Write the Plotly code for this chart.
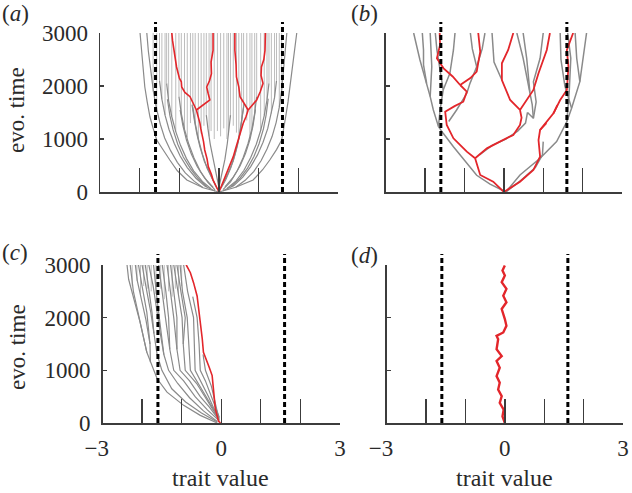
import plotly.graph_objects as go

# ---------------- shared data ----------------
x_tick_vals = [-3, -2, -1, 0, 1, 2, 3]
x_tick_text = ["\u22123\u2007", "", "", "0", "", "", "3"]
y_tick_vals = [0, 1000, 2000, 3000]
y_tick_text = ["0", "1000", "2000", "3000"]
threshold_traits = [-1.6, 1.6]
sim_end_time = 3000

# ---------------- panel (a) ----------------
a_gray_lineages = [
    [(0, 0), (-0.4, 80), (-0.81, 226), (-1.05, 400), (-1.24, 604), (-1.42, 800), (-1.57, 981), (-1.66, 1200), (-1.74, 1415), (-1.81, 1700), (-1.87, 1981), (-1.92, 2400), (-1.96, 2750), (-1.99, 3000)],
    [(-0.4, 80), (-0.62, 200), (-0.85, 360), (-1.05, 560), (-1.22, 780), (-1.37, 1020), (-1.48, 1280), (-1.57, 1560), (-1.65, 1880), (-1.72, 2250), (-1.78, 2650), (-1.82, 3000)],
    [(-0.1, 20), (-0.35, 110), (-0.58, 260), (-0.80, 460), (-0.98, 680), (-1.13, 920), (-1.26, 1180), (-1.36, 1450), (-1.44, 1750), (-1.50, 2100)],
    [(-0.3, 100), (-0.52, 250), (-0.72, 440), (-0.90, 660), (-1.04, 900), (-1.16, 1180), (-1.24, 1450), (-1.30, 1750)],
    [(-0.2, 60), (-0.42, 200), (-0.64, 400), (-0.82, 630), (-0.97, 880), (-1.09, 1140), (-1.19, 1420), (-1.27, 1720), (-1.32, 2050)],
    [(-0.15, 90), (-0.36, 260), (-0.55, 480), (-0.70, 720), (-0.82, 980), (-0.91, 1250), (-0.98, 1550)],
    [(-0.1, 40), (-0.28, 180), (-0.47, 390), (-0.63, 640), (-0.76, 900), (-0.87, 1180), (-0.95, 1480), (-1.01, 1800)],
    [(-0.08, 120), (-0.22, 330), (-0.37, 580), (-0.48, 850), (-0.56, 1100), (-0.62, 1350), (-0.68, 1650)],
    [(-0.05, 60), (-0.16, 220), (-0.30, 450), (-0.42, 720), (-0.52, 1000), (-0.60, 1300), (-0.66, 1600)],
    [(0, 80), (-0.06, 300), (-0.14, 600), (-0.22, 900), (-0.28, 1200), (-0.32, 1450)],
    [(0, 0), (0.42, 90), (0.86, 226), (1.10, 420), (1.28, 604), (1.45, 800), (1.58, 981), (1.64, 1200), (1.68, 1415), (1.74, 1700), (1.79, 1981), (1.86, 2400), (1.92, 2750), (1.96, 3000)],
    [(0.42, 90), (0.66, 220), (0.88, 390), (1.06, 590), (1.21, 810), (1.34, 1050), (1.44, 1310), (1.52, 1600), (1.58, 1920), (1.63, 2300), (1.68, 2700), (1.71, 3000)],
    [(0.1, 25), (0.37, 120), (0.60, 280), (0.80, 480), (0.97, 700), (1.11, 940), (1.23, 1200), (1.32, 1480), (1.40, 1780), (1.45, 2100)],
    [(0.3, 105), (0.53, 260), (0.72, 450), (0.88, 670), (1.01, 910), (1.12, 1190), (1.19, 1460), (1.24, 1760)],
    [(0.2, 65), (0.43, 210), (0.63, 410), (0.80, 650), (0.94, 900), (1.05, 1160), (1.14, 1440), (1.21, 1740), (1.26, 2050)],
    [(0.15, 95), (0.35, 270), (0.53, 490), (0.67, 730), (0.78, 990), (0.86, 1260), (0.92, 1560)],
    [(0.1, 45), (0.29, 190), (0.46, 400), (0.61, 650), (0.73, 910), (0.83, 1190), (0.90, 1490), (0.95, 1800)],
    [(0.08, 125), (0.22, 340), (0.36, 590), (0.46, 860), (0.53, 1110), (0.58, 1360), (0.63, 1660)],
    [(0.05, 70), (0.17, 230), (0.30, 460), (0.41, 730), (0.50, 1010), (0.57, 1310), (0.62, 1600)],
    [(0, 90), (0.07, 320), (0.15, 620), (0.21, 920), (0.26, 1220), (0.29, 1450)],
]
a_static_trait = [-1.66, -1.57, -1.50, -1.44, -1.36, -1.32, -1.27, -1.19, -1.09, -1.01, -0.95, -0.87, -0.80,
                  -0.72, -0.66, -0.60, -0.52, -0.45, -0.38, -0.32, -0.25, -0.20, -0.12, -0.04,
                  0.04, 0.12, 0.20, 0.24, 0.29, 0.36, 0.44, 0.50, 0.57, 0.62, 0.70, 0.78, 0.83, 0.90, 0.95,
                  1.05, 1.14, 1.21, 1.26, 1.32, 1.40, 1.45, 1.52, 1.58]
a_static_from = [1900, 1560, 2100, 1750, 1450, 2050, 1720, 1420, 1140, 1800, 1480, 1180, 1030,
                 1300, 1600, 1300, 1000, 1100, 1250, 1450, 1050, 1150, 1000, 1150,
                 1050, 1200, 1000, 1070, 1450, 1250, 1120, 1010, 1310, 1600, 1350, 1050, 1190, 1490, 1800,
                 1160, 1440, 1740, 2050, 1480, 1780, 2100, 1600, 1920]
a_red_lineages = [
    [(0, 0), (-0.06, 90), (-0.15, 226), (-0.19, 330), (-0.27, 478), (-0.30, 620), (-0.36, 793), (-0.39, 950), (-0.44, 1107), (-0.46, 1200), (-0.48, 1296), (-0.53, 1420), (-0.57, 1547)],
    [(-0.57, 1547), (-0.66, 1680), (-0.73, 1799), (-0.86, 1880), (-0.94, 1981), (-0.95, 2080), (-1.00, 2150), (-1.07, 2359), (-1.10, 2500), (-1.15, 2673), (-1.17, 2850), (-1.19, 3000)],
    [(-0.57, 1547), (-0.40, 1640), (-0.23, 1736), (-0.27, 1850), (-0.31, 1981), (-0.24, 2100), (-0.19, 2233), (-0.20, 2450), (-0.15, 2673), (-0.15, 2850), (-0.15, 3000)],
    [(0, 0), (0.08, 150), (0.19, 352), (0.27, 500), (0.36, 667), (0.42, 820), (0.48, 981), (0.55, 1150), (0.61, 1296), (0.68, 1420), (0.735, 1547)],
    [(0.735, 1547), (0.85, 1640), (0.95, 1736), (1.04, 1890), (1.11, 2050), (1.06, 2200), (1.07, 2359), (1.13, 2500), (1.16, 2673), (1.17, 3000)],
    [(0.735, 1547), (0.62, 1680), (0.53, 1799), (0.50, 1980), (0.44, 2170), (0.43, 2400), (0.40, 2673), (0.40, 3000)],
]

# ---------------- panel (b) ----------------
b_gray_lineages = [
    [(0.05, 0), (-0.35, 150), (-0.69, 315), (-0.94, 541), (-1.28, 855), (-1.54, 1107), (-1.66, 1233)],
    [(-1.66, 1233), (-1.79, 1547), (-1.87, 1799), (-1.96, 2050), (-2.13, 2491), (-2.29, 3000)],
    [(-1.87, 1799), (-1.85, 2100), (-1.83, 2364), (-1.87, 3000)],
    [(-1.96, 2050), (-2.04, 2400), (-2.04, 2680), (-2.07, 3000)],
    [(-1.66, 1233), (-1.62, 1547), (-1.54, 1925), (-1.62, 2300), (-1.70, 2680), (-1.74, 3000)],
    [(-1.54, 1925), (-1.37, 2239), (-1.28, 2680), (-1.24, 3000)],
    [(-1.40, 1330), (-1.20, 1547), (-0.94, 1862), (-0.86, 2050), (-0.69, 2364), (-0.55, 2700), (-0.48, 3000)],
    [(-0.69, 2364), (-0.80, 2700), (-0.85, 3000)],
    [(0.05, 0), (0.45, 230), (0.80, 460), (0.98, 700), (1.00, 950)],
    [(-0.62, 700), (-0.30, 880), (0.05, 1000), (0.35, 1150), (0.55, 1300), (0.60, 1500)],
    [(0.60, 1500), (0.75, 1390), (0.72, 1650), (0.66, 1893), (0.49, 2523), (0.33, 3000)],
    [(0.66, 1893), (0.58, 2523), (0.49, 3000)],
    [(0.75, 1390), (0.82, 1700), (0.75, 2081), (0.92, 2523), (1.00, 3000)],
    [(0.05, 0), (0.41, 321), (0.92, 636), (1.34, 950), (1.60, 1327), (1.72, 1579), (1.93, 2081), (2.02, 2585), (2.10, 3000)],
    [(1.93, 2081), (1.85, 2523), (1.81, 3000)],
    [(1.60, 1327), (1.66, 1893), (1.70, 2523), (1.62, 3000)],
    [(1.72, 1579), (1.55, 2000), (1.45, 2500), (1.43, 3000)],
    [(-0.05, 2113), (-0.25, 2450), (-0.30, 3000)],
]
b_red_lineages = [
    [(0, 0), (-0.05, 38), (-0.27, 194), (-0.60, 321), (-0.73, 636)],
    [(-0.73, 636), (-0.94, 761), (-1.10, 880), (-1.28, 1013), (-1.45, 1264), (-1.49, 1515), (-1.25, 1620), (-1.03, 1704), (-0.94, 1893), (-1.11, 2019)],
    [(-1.11, 2019), (-1.30, 2180), (-1.53, 2334), (-1.70, 2523), (-1.62, 2774), (-1.63, 3000)],
    [(-1.11, 2019), (-0.85, 2150), (-0.69, 2270), (-0.60, 2648), (-0.65, 3000)],
    [(-0.73, 636), (-0.43, 824), (-0.10, 950), (0.24, 1076), (0.41, 1264), (0.45, 1400), (0.41, 1548)],
    [(0.41, 1548), (0.60, 1750), (0.75, 1925), (0.88, 2240), (1.09, 2680), (1.17, 3000)],
    [(0.41, 1548), (0.16, 1736), (-0.05, 2113), (-0.05, 2428), (0.11, 2680), (0.24, 3000)],
    [(0, 0), (0.41, 194), (0.75, 415), (0.92, 666), (0.88, 981), (0.92, 1170), (1.26, 1485), (1.43, 1736), (1.60, 1925), (1.64, 2364), (1.60, 2680), (1.76, 3000)],
    [(0.92, 1170), (1.08, 1300)],
    [(1.26, 1485), (1.36, 1640)],
]

# ---------------- panel (c) ----------------
c_gray_lineages = [
    [(-0.1, 0), (-0.53, 145), (-0.95, 335), (-1.37, 586), (-1.62, 839), (-1.79, 1153), (-1.88, 1342), (-2.05, 1909), (-2.21, 2351), (-2.34, 2729), (-2.38, 3000)],
    [(-1.88, 1342), (-1.98, 1700), (-2.10, 2100), (-2.22, 2500), (-2.30, 3000)],
    [(-1.79, 1153), (-1.80, 1500), (-1.90, 1950), (-2.02, 2350), (-2.12, 2700), (-2.17, 3000)],
    [(-1.80, 1500), (-1.88, 2100), (-2.00, 2600), (-2.09, 3000)],
    [(-0.1, 20), (-0.5, 190), (-0.9, 400), (-1.25, 650), (-1.50, 1000), (-1.62, 1300), (-1.70, 1700), (-1.78, 2100), (-1.88, 2500), (-2.00, 3000)],
    [(-1.70, 1700), (-1.75, 2100), (-1.84, 2600), (-1.92, 3000)],
    [(-0.1, 30), (-0.45, 230), (-0.8, 480), (-1.10, 750), (-1.33, 1000), (-1.45, 1300), (-1.54, 1700), (-1.62, 2100), (-1.72, 2600), (-1.83, 3000)],
    [(-1.45, 1300), (-1.55, 1900), (-1.63, 2400), (-1.71, 3000)],
    [(-0.05, 40), (-0.35, 250), (-0.66, 500), (-0.95, 800), (-1.20, 1000), (-1.30, 1400), (-1.41, 2000), (-1.50, 2500), (-1.58, 3000)],
    [(-1.30, 1400), (-1.33, 2000), (-1.40, 2500), (-1.49, 3000)],
    [(-0.05, 50), (-0.30, 300), (-0.53, 500), (-0.80, 800), (-1.04, 1000), (-1.12, 1400), (-1.20, 2000), (-1.29, 2500), (-1.37, 3000)],
    [(-1.12, 1400), (-1.12, 2000), (-1.20, 2500), (-1.28, 3000)],
    [(-0.05, 60), (-0.25, 300), (-0.40, 500), (-0.62, 750), (-0.91, 1000), (-0.96, 1500), (-0.99, 2000), (-1.10, 2500), (-1.20, 3000)],
    [(-0.96, 1500), (-0.91, 2000), (-1.02, 2500), (-1.12, 3000)],
    [(-0.05, 80), (-0.22, 300), (-0.38, 500), (-0.58, 750), (-0.78, 1000), (-0.82, 1500), (-0.86, 2000), (-0.98, 2500), (-1.04, 3000)],
    [(-0.05, 90), (-0.20, 300), (-0.32, 500), (-0.50, 750), (-0.66, 1000), (-0.68, 1500), (-0.70, 2000), (-0.85, 2500), (-0.95, 3000)],
    [(-0.05, 110), (-0.17, 350), (-0.28, 600), (-0.40, 800), (-0.53, 1000), (-0.56, 1500), (-0.61, 2000), (-0.72, 2400)],
    [(-0.08, 150), (-0.15, 400), (-0.25, 700), (-0.40, 1000), (-0.46, 1300)],
]
c_static_trait = [-2.25, -2.13, -2.04, -1.96, -1.87, -1.77, -1.65, -1.53, -1.44, -1.33, -1.24, -1.16, -1.08, -1.00]
c_static_from = [2600, 2700, 2450, 2600, 2550, 2500, 2450, 2550, 2350, 2500, 2400, 2550, 2450, 2600]
c_red_lineage = [(-0.02, 0), (-0.07, 38), (-0.15, 272), (-0.19, 600), (-0.23, 901), (-0.30, 1050), (-0.36, 1153), (-0.45, 1342),
                 (-0.48, 1600), (-0.53, 1909), (-0.57, 2150), (-0.61, 2413), (-0.70, 2665), (-0.78, 2854), (-0.87, 2981), (-0.89, 3000)]

# ---------------- panel (d) ----------------
d_red_trait = [0.0, -0.06, -0.03, -0.13, -0.08, -0.17, -0.13, -0.21, -0.13, -0.21, -0.08, -0.21, -0.17, -0.21,
               -0.04, 0.04, 0.0, -0.08, 0.04, -0.04, 0.04, -0.08, 0.0, -0.06, 0.0]
d_red_time = [0, 127, 254, 382, 508, 636, 764, 890, 1050, 1177, 1272, 1400, 1591, 1654,
              1719, 1845, 1973, 2164, 2292, 2418, 2546, 2674, 2800, 2896, 2991]

# ---------------- styles ----------------
RED = "#e3262b"
GRAY = "#8a8a8a"
LIGHT = "#bdbdbd"
AXIS = "#3c3c3c"
TXT = "#2a2a2a"
FONT = "Liberation Serif, Times New Roman, serif"


def flatten(branches):
    xs, ts = [], []
    for br in branches:
        for x, t in br:
            xs.append(x)
            ts.append(t)
        xs.append(None)
        ts.append(None)
    return xs, ts


def statics(traits, starts):
    return [[(x, t0), (x, sim_end_time)] for x, t0 in zip(traits, starts)]


fig = go.Figure()


def add(branches, color, width, ax):
    xs, ts = flatten(branches)
    fig.add_trace(go.Scatter(x=xs, y=ts, mode="lines", line=dict(color=color, width=width),
                             xaxis="x" + ax, yaxis="y" + ax, hoverinfo="skip", showlegend=False))


# panel a
add(statics(a_static_trait, a_static_from), LIGHT, 1.0, "")
add(a_gray_lineages, GRAY, 1.2, "")
add(a_red_lineages, RED, 1.6, "")
# panel b
add(b_gray_lineages, GRAY, 1.5, "2")
add(b_red_lineages, RED, 1.8, "2")
# panel c
add(statics(c_static_trait, c_static_from), LIGHT, 1.0, "3")
add(c_gray_lineages, GRAY, 1.2, "3")
add([c_red_lineage], RED, 1.6, "3")
# panel d
add([list(zip(d_red_trait, d_red_time))], RED, 2.4, "4")

W, H = 632, 493


def px_x(p):
    return p / W


def px_y(p):
    return 1 - p / H


panels = {
    "": dict(x=(100, 338), y=(192, 33), ylabels=True, xlabels=False),
    "2": dict(x=(385.7, 622), y=(192, 33), ylabels=False, xlabels=False),
    "3": dict(x=(102.5, 340), y=(423, 265), ylabels=True, xlabels=True),
    "4": dict(x=(386.7, 623), y=(423, 265), ylabels=False, xlabels=True),
}

layout = dict(template="none", width=W, height=H, margin=dict(l=0, r=0, t=0, b=0, pad=0), autosize=False,
              paper_bgcolor="white", plot_bgcolor="white", showlegend=False,
              font=dict(family=FONT, size=23, color=TXT))
shapes = []
for key, p in panels.items():
    xname = "xaxis" + key
    yname = "yaxis" + key
    layout[xname] = dict(domain=[px_x(p["x"][0]), px_x(p["x"][1])], range=[-3, 3], automargin=False,
                         anchor="y" + key, showgrid=False, zeroline=False,
                         showline=True, linecolor=AXIS, linewidth=1.5,
                         ticks="inside", ticklen=24, tickwidth=1.3, tickcolor=AXIS,
                         tickvals=x_tick_vals, ticktext=x_tick_text,
                         showticklabels=p["xlabels"], ticklabelstandoff=4,
                         tickfont=dict(family=FONT, size=23, color=TXT))
    layout[yname] = dict(domain=[px_y(p["y"][0]), px_y(p["y"][1])], range=[0, 3000], automargin=False,
                         anchor="x" + key, showgrid=False, zeroline=False,
                         showline=True, linecolor=AXIS, linewidth=1.5,
                         ticks="inside", ticklen=4, tickwidth=1.3, tickcolor=AXIS,
                         tickvals=y_tick_vals, ticktext=y_tick_text,
                         showticklabels=p["ylabels"], ticklabelstandoff=6,
                         tickfont=dict(family=FONT, size=23, color=TXT))
    for thr in threshold_traits:
        shapes.append(dict(type="line", xref="x" + key, yref="paper", x0=thr, x1=thr,
                           y0=px_y(p["y"][0]), y1=px_y(p["y"][1] - 11),
                           line=dict(color="black", width=3, dash="5px,3px"), layer="above"))
layout["shapes"] = shapes

annotations = []
for text, cx, cy in [("(<i>a</i>)", 15, 14), ("(<i>b</i>)", 364, 14), ("(<i>c</i>)", 15, 252), ("(<i>d</i>)", 364, 255)]:
    annotations.append(dict(text=text, x=px_x(cx), y=px_y(cy), xref="paper", yref="paper",
                            showarrow=False, xanchor="center", yanchor="middle",
                            font=dict(family=FONT, size=23, color=TXT)))
for cy in [110, 347]:
    annotations.append(dict(text="evo. time", x=px_x(17), y=px_y(cy), xref="paper", yref="paper",
                            showarrow=False, textangle=-90, xanchor="center", yanchor="middle",
                            font=dict(family=FONT, size=23, color=TXT)))
for cx in [221, 504]:
    annotations.append(dict(text="trait value", x=px_x(cx), y=px_y(478), xref="paper", yref="paper",
                            showarrow=False, xanchor="center", yanchor="middle",
                            font=dict(family=FONT, size=24, color=TXT)))
layout["annotations"] = annotations

fig.update_layout(**layout)
fig.write_html("out.html", config={"displayModeBar": False, "staticPlot": True},
               post_script="document.body.style.margin='0';document.body.style.padding='0';"
                           "document.body.style.overflow='hidden';")
